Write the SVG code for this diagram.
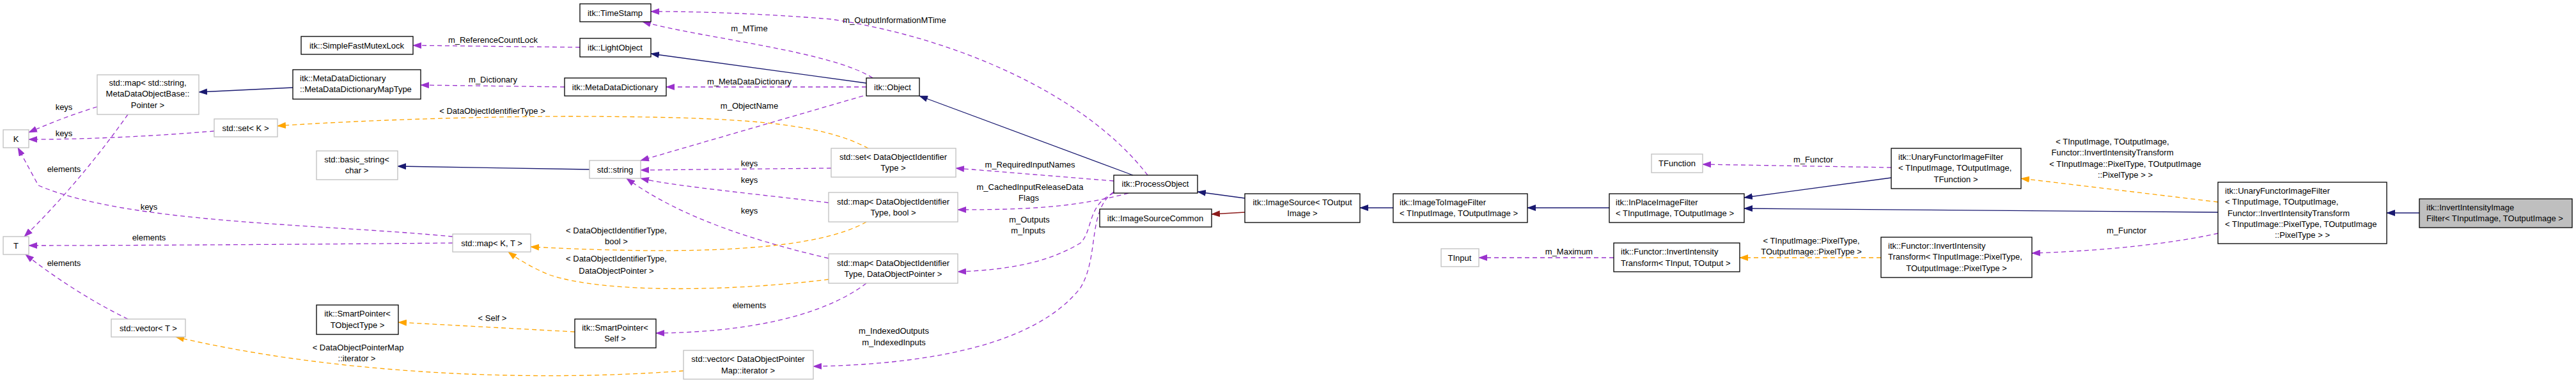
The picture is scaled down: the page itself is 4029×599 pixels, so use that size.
<svg xmlns="http://www.w3.org/2000/svg" width="4029" height="599" viewBox="0 0 4029 599">
<style>
text{font-family:"Liberation Sans",Arial,sans-serif;font-size:13px;fill:#000}
.m{text-anchor:middle}
.nb{fill:#fff;stroke:#000;stroke-width:1.3}
.ng{fill:#fff;stroke:#bfbfbf;stroke-width:1.3}
.nf{fill:#bfbfbf;stroke:#000;stroke-width:1.3}
.n{fill:none;stroke:#191970;stroke-width:1.3;marker-end:url(#an)}
.p{fill:none;stroke:#9a32cd;stroke-width:1.3;stroke-dasharray:7,5;marker-end:url(#ap)}
.o{fill:none;stroke:#ffa500;stroke-width:1.3;stroke-dasharray:7,5;marker-end:url(#ao)}
.r{fill:none;stroke:#8b1a1a;stroke-width:1.3;marker-end:url(#ar)}
</style>
<defs>
<marker id="an" markerWidth="14" markerHeight="10" refX="13" refY="5" orient="auto" markerUnits="userSpaceOnUse"><path d="M0,0L14,5L0,10z" fill="#191970"/></marker>
<marker id="ap" markerWidth="14" markerHeight="10" refX="13" refY="5" orient="auto" markerUnits="userSpaceOnUse"><path d="M0,0L14,5L0,10z" fill="#9a32cd"/></marker>
<marker id="ao" markerWidth="14" markerHeight="10" refX="13" refY="5" orient="auto" markerUnits="userSpaceOnUse"><path d="M0,0L14,5L0,10z" fill="#ffa500"/></marker>
<marker id="ar" markerWidth="14" markerHeight="10" refX="13" refY="5" orient="auto" markerUnits="userSpaceOnUse"><path d="M0,0L14,5L0,10z" fill="#8b1a1a"/></marker>
</defs>
<rect width="4029" height="599" fill="#fff"/>
<g id="edges">
<path class="p" d="M907,74L646,71"/><text class="m" x="771" y="67">m_ReferenceCountLock</text>
<path class="n" d="M458,137L311,144"/>
<path class="p" d="M883,136L658,133"/><text class="m" x="771" y="129">m_Dictionary</text>
<path class="p" d="M152,167C110,180 80,192 45,207"/><text class="m" x="100" y="172">keys</text>
<path class="p" d="M335,205C250,212 150,218 45,218"/><text class="m" x="100" y="213">keys</text>
<path class="p" d="M200,179C150,250 90,320 38,370"/><text class="m" x="100" y="269">elements</text>
<path class="p" d="M708,370C500,350 200,350 60,290L28,231"/><text class="m" x="233" y="328">keys</text>
<path class="p" d="M708,380C500,382 200,384 45,384"/><text class="m" x="233" y="376">elements</text>
<path class="p" d="M200,499C140,470 80,430 40,398"/><text class="m" x="100" y="416">elements</text>
<path class="n" d="M922,265L622,260"/>
<path class="n" d="M1355,130L1018,84"/>
<path class="p" d="M1365,122C1300,80 1100,60 1005,34"/><text class="m" x="1172" y="49">m_MTime</text>
<path class="p" d="M1355,136L1042,136"/><text class="m" x="1172" y="132">m_MetaDataDictionary</text>
<path class="p" d="M1350,150L1002,251"/><text class="m" x="1172" y="170">m_ObjectName</text>
<path class="p" d="M1795,274C1700,150 1500,60 1300,30C1150,18 1050,18 1018,18"/><text class="m" x="1399" y="36">m_OutputInformationMTime</text>
<path class="n" d="M1772,274L1438,150"/>
<path class="p" d="M1742,283L1495,263"/><text class="m" x="1611" y="262">m_RequiredInputNames</text>
<path class="p" d="M1765,302C1680,325 1600,328 1498,328"/><text class="m" x="1611" y="297">m_CachedInputReleaseData</text><text class="m" x="1609" y="314">Flags</text>
<path class="p" d="M1742,302C1700,320 1710,360 1690,380C1640,410 1580,422 1498,425"/><text class="m" x="1610" y="348">m_Outputs</text><text class="m" x="1608" y="365">m_Inputs</text>
<path class="p" d="M1742,300C1700,330 1720,400 1690,450C1620,540 1450,570 1272,573"/><text class="m" x="1398" y="522">m_IndexedOutputs</text><text class="m" x="1398" y="540">m_IndexedInputs</text>
<path class="p" d="M1300,263L1002,266"/><text class="m" x="1172" y="260">keys</text>
<path class="p" d="M1296,317C1150,300 1050,290 1002,279"/><text class="m" x="1172" y="286">keys</text>
<path class="p" d="M1296,404C1150,370 1050,330 980,279"/><text class="m" x="1172" y="334">keys</text>
<path class="o" d="M1358,232C1280,190 1150,183 900,182C700,182 500,192 434,197"/><text class="m" x="770" y="178">&lt; DataObjectIdentifierType &gt;</text>
<path class="o" d="M1355,347C1280,390 1100,400 830,386"/><text class="m" x="964" y="365">&lt; DataObjectIdentifierType,</text><text class="m" x="964" y="382">bool &gt;</text>
<path class="o" d="M1296,437C1150,455 950,460 860,430C830,418 810,405 795,394"/><text class="m" x="964" y="409">&lt; DataObjectIdentifierType,</text><text class="m" x="964" y="428">DataObjectPointer &gt;</text>
<path class="p" d="M1355,443C1280,500 1150,520 1026,521"/><text class="m" x="1172" y="482">elements</text>
<path class="o" d="M899,519L623,504"/><text class="m" x="770" y="502">&lt; Self &gt;</text>
<path class="o" d="M1069,580C800,600 500,580 275,527"/><text class="m" x="560" y="548">&lt; DataObjectPointerMap</text><text class="m" x="558" y="565">::iterator &gt;</text>
<path class="n" d="M1947,310L1873,300"/>
<path class="r" d="M1947,332L1895,335"/>
<path class="n" d="M2179,325L2127,325"/>
<path class="n" d="M2517,325L2389,325"/>
<path class="n" d="M2958,278L2728,309"/>
<path class="n" d="M3469,332L2728,326"/>
<path class="p" d="M2958,262L2663,257"/><text class="m" x="2836" y="254">m_Functor</text>
<path class="o" d="M3469,316L3161,279"/>
<text class="m" x="3304" y="226">&lt; TInputImage, TOutputImage,</text><text class="m" x="3304" y="243">Functor::InvertIntensityTransform</text><text class="m" x="3324" y="261">&lt; TInputImage::PixelType, TOutputImage</text><text class="m" x="3324" y="278">::PixelType &gt; &gt;</text>
<path class="p" d="M3469,365C3400,380 3300,392 3178,396"/><text class="m" x="3326" y="365">m_Functor</text>
<path class="o" d="M2942,403L2721,403"/><text class="m" x="2833" y="381">&lt; TInputImage::PixelType,</text><text class="m" x="2833" y="398">TOutputImage::PixelType &gt;</text>
<path class="p" d="M2524,403L2313,403"/><text class="m" x="2454" y="398">m_Maximum</text>
<path class="n" d="M3784,333L3733,333"/>
</g>
<g id="n_mutex"><rect class="nb" x="471" y="57" width="175" height="28"/><text class="m" x="558" y="76">itk::SimpleFastMutexLock</text></g>
<g id="n_maptype"><rect class="nb" x="458" y="109" width="200" height="46"/><text x="469" y="127">itk::MetaDataDictionary</text><text x="469" y="144">::MetaDataDictionaryMapType</text></g>
<g id="n_mapstr"><rect class="ng" x="152" y="117" width="159" height="62"/><text class="m" x="231" y="134">std::map&lt; std::string,</text><text class="m" x="231" y="151">MetaDataObjectBase::</text><text class="m" x="231" y="169">Pointer &gt;</text></g>
<g id="n_K"><rect class="ng" x="5" y="203" width="40" height="28"/><text class="m" x="25" y="222">K</text></g>
<g id="n_setK"><rect class="ng" x="335" y="186" width="99" height="28"/><text class="m" x="384" y="205">std::set&lt; K &gt;</text></g>
<g id="n_bstr"><rect class="ng" x="495" y="236" width="127" height="45"/><text class="m" x="558" y="254">std::basic_string&lt;</text><text class="m" x="558" y="271">char &gt;</text></g>
<g id="n_T"><rect class="ng" x="5" y="370" width="40" height="28"/><text class="m" x="25" y="389">T</text></g>
<g id="n_vecT"><rect class="ng" x="174" y="499" width="116" height="28"/><text class="m" x="232" y="518">std::vector&lt; T &gt;</text></g>
<g id="n_spT"><rect class="nb" x="495" y="477" width="128" height="46"/><text class="m" x="559" y="495">itk::SmartPointer&lt;</text><text class="m" x="559" y="513">TObjectType &gt;</text></g>
<g id="n_ts"><rect class="nb" x="907" y="6" width="111" height="28"/><text class="m" x="962" y="25">itk::TimeStamp</text></g>
<g id="n_lo"><rect class="nb" x="907" y="60" width="111" height="29"/><text class="m" x="962" y="79">itk::LightObject</text></g>
<g id="n_mdd"><rect class="nb" x="883" y="122" width="159" height="28"/><text class="m" x="962" y="141">itk::MetaDataDictionary</text></g>
<g id="n_obj"><rect class="nb" x="1355" y="122" width="83" height="28"/><text class="m" x="1396" y="141">itk::Object</text></g>
<g id="n_str"><rect class="ng" x="922" y="251" width="80" height="28"/><text class="m" x="962" y="270">std::string</text></g>
<g id="n_setD"><rect class="ng" x="1300" y="232" width="195" height="45"/><text class="m" x="1397" y="250">std::set&lt; DataObjectIdentifier</text><text class="m" x="1397" y="267">Type &gt;</text></g>
<g id="n_mapB"><rect class="ng" x="1296" y="301" width="202" height="46"/><text class="m" x="1397" y="320">std::map&lt; DataObjectIdentifier</text><text class="m" x="1397" y="337">Type, bool &gt;</text></g>
<g id="n_mapP"><rect class="ng" x="1296" y="397" width="202" height="46"/><text class="m" x="1397" y="416">std::map&lt; DataObjectIdentifier</text><text class="m" x="1397" y="433">Type, DataObjectPointer &gt;</text></g>
<g id="n_mapKT"><rect class="ng" x="708" y="366" width="122" height="28"/><text class="m" x="769" y="385">std::map&lt; K, T &gt;</text></g>
<g id="n_spS"><rect class="nb" x="899" y="499" width="127" height="45"/><text class="m" x="962" y="517">itk::SmartPointer&lt;</text><text class="m" x="962" y="534">Self &gt;</text></g>
<g id="n_vecD"><rect class="ng" x="1069" y="548" width="203" height="45"/><text class="m" x="1170" y="566">std::vector&lt; DataObjectPointer</text><text class="m" x="1170" y="584">Map::iterator &gt;</text></g>
<g id="n_po"><rect class="nb" x="1742" y="274" width="131" height="28"/><text class="m" x="1807" y="292">itk::ProcessObject</text></g>
<g id="n_isc"><rect class="nb" x="1720" y="327" width="175" height="28"/><text class="m" x="1807" y="346">itk::ImageSourceCommon</text></g>
<g id="n_is"><rect class="nb" x="1947" y="303" width="180" height="45"/><text class="m" x="2037" y="321">itk::ImageSource&lt; TOutput</text><text class="m" x="2037" y="338">Image &gt;</text></g>
<g id="n_itoi"><rect class="nb" x="2179" y="303" width="210" height="45"/><text x="2189" y="321">itk::ImageToImageFilter</text><text x="2189" y="338">&lt; TInputImage, TOutputImage &gt;</text></g>
<g id="n_inpl"><rect class="nb" x="2517" y="303" width="211" height="45"/><text x="2527" y="321">itk::InPlaceImageFilter</text><text x="2527" y="338">&lt; TInputImage, TOutputImage &gt;</text></g>
<g id="n_tfun"><rect class="ng" x="2583" y="241" width="80" height="29"/><text class="m" x="2623" y="260">TFunction</text></g>
<g id="n_tin"><rect class="ng" x="2254" y="389" width="59" height="28"/><text class="m" x="2283" y="408">TInput</text></g>
<g id="n_fit"><rect class="nb" x="2524" y="380" width="197" height="45"/><text x="2535" y="398">itk::Functor::InvertIntensity</text><text x="2535" y="416">Transform&lt; TInput, TOutput &gt;</text></g>
<g id="n_uf"><rect class="nb" x="2958" y="232" width="203" height="63"/><text x="2969" y="250">itk::UnaryFunctorImageFilter</text><text x="2969" y="267">&lt; TInputImage, TOutputImage,</text><text class="m" x="3059" y="285">TFunction &gt;</text></g>
<g id="n_fitp"><rect class="nb" x="2942" y="371" width="236" height="63"/><text x="2953" y="389">itk::Functor::InvertIntensity</text><text x="2953" y="406">Transform&lt; TInputImage::PixelType,</text><text class="m" x="3060" y="424">TOutputImage::PixelType &gt;</text></g>
<g id="n_ufb"><rect class="nb" x="3469" y="285" width="264" height="96"/><text x="3480" y="303">itk::UnaryFunctorImageFilter</text><text x="3480" y="320">&lt; TInputImage, TOutputImage,</text><text x="3484" y="338">Functor::InvertIntensityTransform</text><text x="3480" y="355">&lt; TInputImage::PixelType, TOutputImage</text><text class="m" x="3601" y="372">::PixelType &gt; &gt;</text></g>
<g id="n_iif"><rect class="nf" x="3784" y="311" width="239" height="45"/><text x="3795" y="329">itk::InvertIntensityImage</text><text x="3795" y="346">Filter&lt; TInputImage, TOutputImage &gt;</text></g>
</svg>
